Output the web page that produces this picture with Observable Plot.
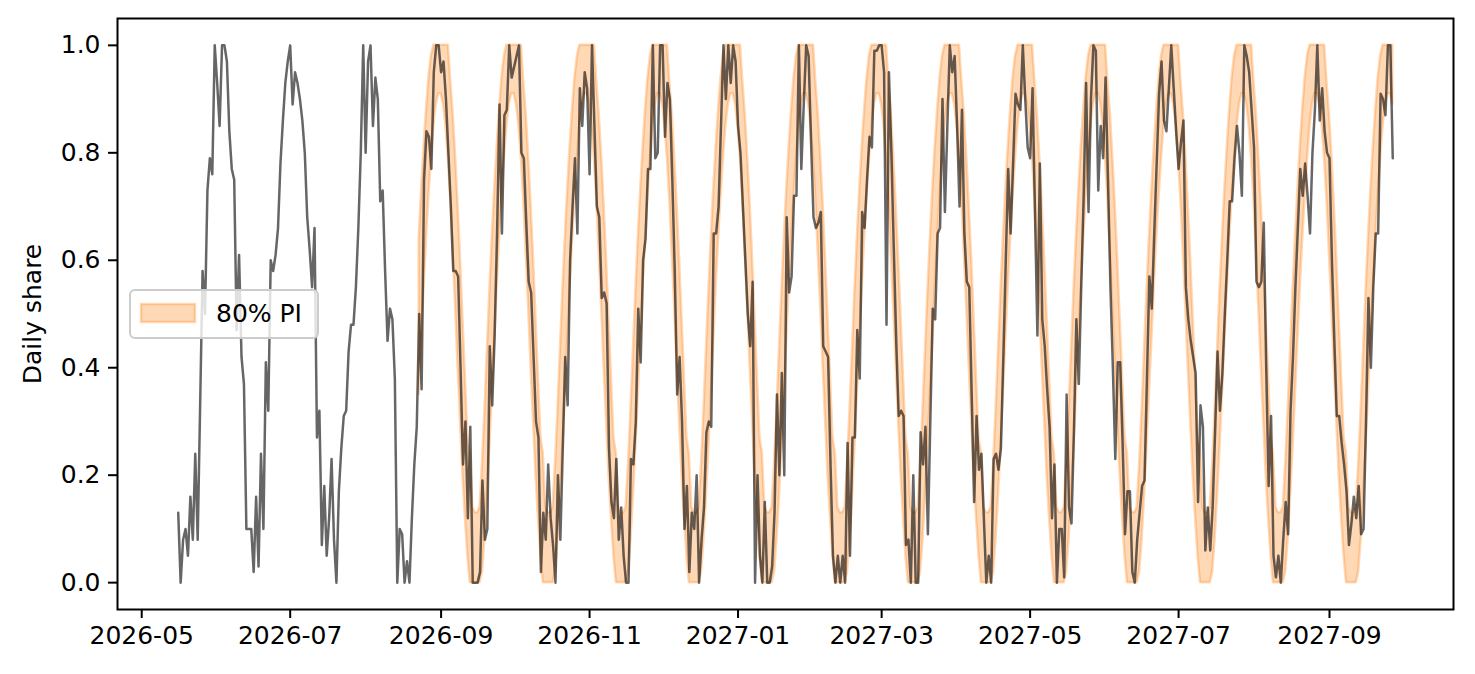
<!DOCTYPE html>
<html><head><meta charset="utf-8">
<script src="https://cdn.jsdelivr.net/npm/d3@7"></script>
<script src="https://cdn.jsdelivr.net/npm/@observablehq/plot@0.6"></script>
<style>
html,body{margin:0;padding:0;background:#fff;}
#chart{width:1475px;height:674px;}
</style></head><body><div id="chart"></div>
<script>
// ---- data ----
const startDate = "2026-05-16";      // first daily observation
const bandStartDate = "2026-08-23";  // first day of the 80% prediction interval
const yLabel = "Daily share";
const legendLabel = "80% PI";
const xTickLabels = ["2026-05","2026-07","2026-09","2026-11","2027-01","2027-03","2027-05","2027-07","2027-09"];
const yTickValues = [0, 0.2, 0.4, 0.6, 0.8, 1.0];

const dailyShare = [
0.13,0.00,0.08,0.10,0.05,0.16,0.08,0.24,0.08,0.33,
0.58,0.50,0.73,0.79,0.76,1.00,0.93,0.85,1.00,1.00,
0.97,0.84,0.77,0.75,0.47,0.61,0.42,0.37,0.10,0.10,
0.10,0.02,0.16,0.03,0.24,0.10,0.41,0.32,0.60,0.58,
0.61,0.66,0.78,0.86,0.93,0.97,1.00,0.89,0.95,0.93,
0.90,0.86,0.80,0.68,0.62,0.55,0.66,0.27,0.32,0.07,
0.18,0.05,0.12,0.23,0.08,0.00,0.17,0.25,0.31,0.32,
0.43,0.48,0.48,0.55,0.66,0.80,1.00,0.80,0.97,1.00,
0.85,0.94,0.90,0.71,0.73,0.58,0.45,0.51,0.49,0.38,
0.00,0.10,0.09,0.00,0.04,0.00,0.12,0.22,0.29,0.50,
0.36,0.75,0.84,0.83,0.77,0.95,1.00,1.00,0.95,0.97,
0.90,0.80,0.70,0.58,0.58,0.57,0.40,0.22,0.30,0.12,
0.29,0.00,0.00,0.00,0.02,0.19,0.08,0.10,0.44,0.33,
0.46,0.65,0.89,0.65,0.87,0.88,1.00,0.94,0.96,0.98,
1.00,0.80,0.79,0.67,0.56,0.54,0.42,0.30,0.27,0.02,
0.13,0.08,0.22,0.12,0.07,0.00,0.20,0.08,0.25,0.42,
0.33,0.60,0.70,0.79,0.65,0.92,0.85,0.95,0.92,0.76,
1.00,0.85,0.70,0.68,0.53,0.54,0.52,0.25,0.15,0.12,
0.23,0.08,0.14,0.05,0.00,0.00,0.23,0.22,0.30,0.51,
0.41,0.60,0.64,0.77,0.77,1.00,0.79,0.80,1.00,1.00,
0.83,0.93,0.90,0.75,0.58,0.35,0.42,0.30,0.10,0.18,
0.02,0.13,0.10,0.20,0.00,0.08,0.14,0.28,0.30,0.29,
0.65,0.65,0.70,0.85,1.00,0.90,1.00,0.93,1.00,0.97,
0.85,0.80,0.70,0.60,0.50,0.44,0.56,0.00,0.20,0.05,
0.00,0.15,0.00,0.00,0.03,0.13,0.35,0.20,0.39,0.20,
0.68,0.54,0.57,0.72,0.72,1.00,0.77,0.89,1.00,0.98,
0.82,0.68,0.66,0.67,0.69,0.44,0.43,0.42,0.22,0.05,
0.00,0.05,0.00,0.05,0.00,0.26,0.05,0.27,0.27,0.47,
0.38,0.69,0.66,0.75,0.83,0.81,0.99,0.99,1.00,1.00,
0.95,0.48,0.95,0.80,0.62,0.45,0.31,0.32,0.31,0.07,
0.08,0.00,0.20,0.00,0.00,0.28,0.22,0.29,0.09,0.30,
0.51,0.49,0.65,0.66,0.90,0.69,0.85,1.00,0.95,0.98,
0.85,0.70,0.88,0.65,0.56,0.55,0.35,0.15,0.31,0.21,
0.24,0.12,0.00,0.05,0.00,0.23,0.24,0.21,0.25,0.42,
0.60,0.77,0.65,0.78,0.91,0.89,0.88,1.00,0.90,0.81,
0.79,0.92,0.69,0.46,0.78,0.49,0.44,0.36,0.29,0.12,
0.22,0.00,0.10,0.10,0.01,0.35,0.14,0.11,0.28,0.49,
0.37,0.55,0.72,0.93,0.69,0.90,1.00,0.99,0.73,0.85,
0.79,0.94,0.75,0.55,0.40,0.23,0.41,0.41,0.26,0.09,
0.17,0.17,0.02,0.00,0.08,0.13,0.18,0.19,0.38,0.57,
0.51,0.65,0.78,0.91,0.97,0.86,0.84,0.92,1.00,0.92,
0.84,0.77,0.82,0.86,0.55,0.49,0.45,0.42,0.39,0.15,
0.33,0.29,0.06,0.14,0.06,0.14,0.28,0.43,0.32,0.39,
0.50,0.60,0.71,0.71,0.79,0.85,0.80,0.72,1.00,0.98,
0.95,0.88,0.81,0.56,0.55,0.56,0.67,0.40,0.18,0.31,
0.05,0.01,0.05,0.00,0.08,0.15,0.09,0.32,0.42,0.55,
0.66,0.77,0.72,0.78,0.72,0.65,0.80,0.88,1.00,0.86,
0.92,0.84,0.80,0.79,0.60,0.45,0.31,0.31,0.26,0.22,
0.17,0.07,0.11,0.16,0.12,0.18,0.09,0.10,0.30,0.53,
0.40,0.55,0.65,0.65,0.91,0.90,0.87,1.00,1.00,0.79
];

const piLow = [
0.35,0.45,0.55,0.64,0.72,0.79,0.85,0.89,0.91,0.91,0.89,0.85,0.79,0.71,0.61,0.51,0.40,0.30,0.20,0.12,0.05,0.00,0.00,0.00,
0.00,0.00,0.02,0.08,0.16,0.25,0.35,0.45,0.55,0.64,0.72,0.79,0.85,0.89,0.91,0.91,0.89,0.85,0.79,0.71,0.61,0.51,0.40,0.30,0.20,0.12,0.05,0.00,0.00,0.00,
0.00,0.00,0.02,0.08,0.16,0.25,0.35,0.45,0.55,0.64,0.72,0.79,0.85,0.89,0.91,0.91,0.89,0.85,0.79,0.71,0.61,0.51,0.40,0.30,0.20,0.12,0.05,0.00,0.00,0.00,
0.00,0.00,0.02,0.08,0.16,0.25,0.35,0.45,0.55,0.64,0.72,0.79,0.85,0.89,0.91,0.91,0.89,0.85,0.79,0.71,0.61,0.51,0.40,0.30,0.20,0.12,0.05,0.00,0.00,0.00,
0.00,0.00,0.02,0.08,0.16,0.25,0.35,0.45,0.55,0.64,0.72,0.79,0.85,0.89,0.91,0.91,0.89,0.85,0.79,0.71,0.61,0.51,0.40,0.30,0.20,0.12,0.05,0.00,0.00,0.00,
0.00,0.00,0.02,0.08,0.16,0.25,0.35,0.45,0.55,0.64,0.72,0.79,0.85,0.89,0.91,0.91,0.89,0.85,0.79,0.71,0.61,0.51,0.40,0.30,0.20,0.12,0.05,0.00,0.00,0.00,
0.00,0.00,0.02,0.08,0.16,0.25,0.35,0.45,0.55,0.64,0.72,0.79,0.85,0.89,0.91,0.91,0.89,0.85,0.79,0.71,0.61,0.51,0.40,0.30,0.20,0.12,0.05,0.00,0.00,0.00,
0.00,0.00,0.02,0.08,0.16,0.25,0.35,0.45,0.55,0.64,0.72,0.79,0.85,0.89,0.91,0.91,0.89,0.85,0.79,0.71,0.61,0.51,0.40,0.30,0.20,0.12,0.05,0.00,0.00,0.00,
0.00,0.00,0.02,0.08,0.16,0.25,0.35,0.45,0.55,0.64,0.72,0.79,0.85,0.89,0.91,0.91,0.89,0.85,0.79,0.71,0.61,0.51,0.40,0.30,0.20,0.12,0.05,0.00,0.00,0.00,
0.00,0.00,0.02,0.08,0.16,0.25,0.35,0.45,0.55,0.64,0.72,0.79,0.85,0.89,0.91,0.91,0.89,0.85,0.79,0.71,0.61,0.51,0.40,0.30,0.20,0.12,0.05,0.00,0.00,0.00,
0.00,0.00,0.02,0.08,0.16,0.25,0.35,0.45,0.55,0.64,0.72,0.79,0.85,0.89,0.91,0.91,0.89,0.85,0.79,0.71,0.61,0.51,0.40,0.30,0.20,0.12,0.05,0.00,0.00,0.00,
0.00,0.00,0.02,0.08,0.16,0.25,0.35,0.45,0.55,0.64,0.72,0.79,0.85,0.89,0.91,0.91,0.89,0.85,0.79,0.71,0.61,0.51,0.40,0.30,0.20,0.12,0.05,0.00,0.00,0.00,
0.00,0.00,0.02,0.08,0.16,0.25,0.35,0.45,0.55,0.64,0.72,0.79,0.85,0.89,0.91,0.91,0.89,0.85,0.79,0.71,0.61,0.51,0.40,0.30,0.20,0.12,0.05,0.00,0.00,0.00,
0.00,0.00,0.02,0.08,0.16,0.25,0.35,0.45,0.55,0.64,0.72,0.79,0.85,0.89,0.91,0.91,0.89
];

const piHigh = [
0.64,0.73,0.81,0.88,0.94,0.98,1.00,1.00,1.00,1.00,1.00,1.00,1.00,0.93,0.87,0.79,0.70,0.60,0.49,0.38,0.27,0.24,0.14,0.13,
0.13,0.14,0.22,0.32,0.43,0.54,0.64,0.73,0.81,0.88,0.94,0.98,1.00,1.00,1.00,1.00,1.00,1.00,1.00,0.93,0.87,0.79,0.70,0.60,0.49,0.38,0.27,0.24,0.14,0.13,
0.13,0.14,0.22,0.32,0.43,0.54,0.64,0.73,0.81,0.88,0.94,0.98,1.00,1.00,1.00,1.00,1.00,1.00,1.00,0.93,0.87,0.79,0.70,0.60,0.49,0.38,0.27,0.24,0.14,0.13,
0.13,0.14,0.22,0.32,0.43,0.54,0.64,0.73,0.81,0.88,0.94,0.98,1.00,1.00,1.00,1.00,1.00,1.00,1.00,0.93,0.87,0.79,0.70,0.60,0.49,0.38,0.27,0.24,0.14,0.13,
0.13,0.14,0.22,0.32,0.43,0.54,0.64,0.73,0.81,0.88,0.94,0.98,1.00,1.00,1.00,1.00,1.00,1.00,1.00,0.93,0.87,0.79,0.70,0.60,0.49,0.38,0.27,0.24,0.14,0.13,
0.13,0.14,0.22,0.32,0.43,0.54,0.64,0.73,0.81,0.88,0.94,0.98,1.00,1.00,1.00,1.00,1.00,1.00,1.00,0.93,0.87,0.79,0.70,0.60,0.49,0.38,0.27,0.24,0.14,0.13,
0.13,0.14,0.22,0.32,0.43,0.54,0.64,0.73,0.81,0.88,0.94,0.98,1.00,1.00,1.00,1.00,1.00,1.00,1.00,0.93,0.87,0.79,0.70,0.60,0.49,0.38,0.27,0.24,0.14,0.13,
0.13,0.14,0.22,0.32,0.43,0.54,0.64,0.73,0.81,0.88,0.94,0.98,1.00,1.00,1.00,1.00,1.00,1.00,1.00,0.93,0.87,0.79,0.70,0.60,0.49,0.38,0.27,0.24,0.14,0.13,
0.13,0.14,0.22,0.32,0.43,0.54,0.64,0.73,0.81,0.88,0.94,0.98,1.00,1.00,1.00,1.00,1.00,1.00,1.00,0.93,0.87,0.79,0.70,0.60,0.49,0.38,0.27,0.24,0.14,0.13,
0.13,0.14,0.22,0.32,0.43,0.54,0.64,0.73,0.81,0.88,0.94,0.98,1.00,1.00,1.00,1.00,1.00,1.00,1.00,0.93,0.87,0.79,0.70,0.60,0.49,0.38,0.27,0.24,0.14,0.13,
0.13,0.14,0.22,0.32,0.43,0.54,0.64,0.73,0.81,0.88,0.94,0.98,1.00,1.00,1.00,1.00,1.00,1.00,1.00,0.93,0.87,0.79,0.70,0.60,0.49,0.38,0.27,0.24,0.14,0.13,
0.13,0.14,0.22,0.32,0.43,0.54,0.64,0.73,0.81,0.88,0.94,0.98,1.00,1.00,1.00,1.00,1.00,1.00,1.00,0.93,0.87,0.79,0.70,0.60,0.49,0.38,0.27,0.24,0.14,0.13,
0.13,0.14,0.22,0.32,0.43,0.54,0.64,0.73,0.81,0.88,0.94,0.98,1.00,1.00,1.00,1.00,1.00,1.00,1.00,0.93,0.87,0.79,0.70,0.60,0.49,0.38,0.27,0.24,0.14,0.13,
0.13,0.14,0.22,0.32,0.43,0.54,0.64,0.73,0.81,0.88,0.94,0.98,1.00,1.00,1.00,1.00,1.00
];

// ---- tables for the library ----
const parseDay = d3.utcParse("%Y-%m-%d");
const parseMonth = d3.utcParse("%Y-%m");
const t0 = parseDay(startDate);
const b0 = parseDay(bandStartDate);
const actual = dailyShare.map((v, i) => ({date: d3.utcDay.offset(t0, i), v}));
const band = piLow.map((lo, i) => ({date: d3.utcDay.offset(b0, i), lo, hi: piHigh[i]}));
const first = actual[0].date, last = actual[actual.length - 1].date;
const pad = (last - first) * 0.05;
const xDomain = [new Date(+first - pad), new Date(+last + pad)];
const xTicks = xTickLabels.map(parseMonth);

const font = "DejaVu Sans, sans-serif";
const plot = Plot.plot({
  width: 1475,
  height: 674,
  marginLeft: 117,
  marginRight: 22,
  marginTop: 18,
  marginBottom: 65,
  style: {fontFamily: font, fontSize: "25px", color: "black", background: "white", overflow: "visible"},
  x: {type: "utc", domain: xDomain},
  y: {domain: [-0.05, 1.05]},
  marks: [
    Plot.areaY(band, {x: "date", y1: "lo", y2: "hi", fill: "#ff7f0e", fillOpacity: 0.3,
      stroke: "#ff7f0e", strokeOpacity: 0.3, strokeWidth: 2.5, curve: "linear"}),
    Plot.lineY(actual, {x: "date", y: "v", stroke: "black", strokeOpacity: 0.6, strokeWidth: 2.5,
      strokeLinejoin: "round", curve: "linear"}),
    Plot.frame({stroke: "black", strokeWidth: 2}),
    Plot.axisX({ticks: xTicks, tickFormat: d3.utcFormat("%Y-%m"), tickSize: 9, tickPadding: 8,
      strokeWidth: 2, label: null, fontSize: 25}),
    Plot.axisY({ticks: yTickValues, tickFormat: ".1f", tickSize: 9, tickPadding: 8,
      strokeWidth: 2, label: null, fontSize: 25}),
    Plot.text([yLabel], {text: d => d, frameAnchor: "left", dx: -85, rotate: -90,
      textAnchor: "middle", lineAnchor: "middle", fontSize: 25})
  ]
});

// legend (inside the frame, centre-left)
const svg = d3.select(plot);
const lg = svg.append("g").attr("font-family", font).attr("font-size", 25);
lg.append("rect").attr("x", 130).attr("y", 290).attr("width", 188).attr("height", 48)
  .attr("rx", 5).attr("fill", "white").attr("fill-opacity", 0.8)
  .attr("stroke", "#cccccc").attr("stroke-width", 2);
lg.append("rect").attr("x", 141).attr("y", 304).attr("width", 54).attr("height", 18)
  .attr("fill", "#ff7f0e").attr("fill-opacity", 0.3)
  .attr("stroke", "#ff7f0e").attr("stroke-opacity", 0.3).attr("stroke-width", 2.5);
lg.append("text").attr("x", 216).attr("y", 322).attr("text-anchor", "start")
  .attr("fill", "black").text(legendLabel);

document.getElementById("chart").appendChild(plot);
</script>
</body></html>
